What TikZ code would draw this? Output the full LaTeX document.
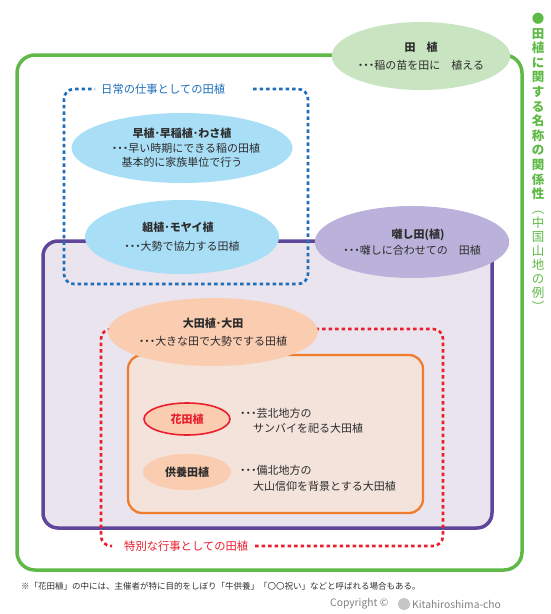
\documentclass[tikz,border=0pt]{standalone}
\usepackage{fontspec}
\setmainfont{Noto Sans CJK JP}
\usepackage{tikz}
\usetikzlibrary{shapes.geometric, positioning}
\definecolor{ugreen}{RGB}{95,185,70}
\definecolor{upurple}{RGB}{95,70,155}
\definecolor{purplebg}{RGB}{234,228,238}
\definecolor{ublue}{RGB}{30,110,185}
\definecolor{ured}{RGB}{235,30,45}
\definecolor{uorange}{RGB}{240,125,45}
\definecolor{orangebg}{RGB}{243,227,219}
\definecolor{skyfill}{RGB}{168,222,246}
\definecolor{lilacfill}{RGB}{186,178,218}
\definecolor{leaffill}{RGB}{200,228,192}
\definecolor{peachfill}{RGB}{250,204,176}
\definecolor{txt}{RGB}{45,45,45}
\newcommand\bodyfont{\fontsize{11}{14.5}\selectfont}
\newcommand\lead{\textbf{･･･}}
\tikzset{
  outerbox/.style  = {draw=ugreen, line width=3.5pt, rounded corners=18pt},
  middlebox/.style = {draw=upurple, fill=purplebg, line width=3.5pt, rounded corners=15pt},
  innerbox/.style  = {draw=uorange, fill=orangebg, line width=2.3pt, rounded corners=14pt},
  dotline/.style   = {line width=2.6pt, dash pattern=on 3.5pt off 3pt, rounded corners=10pt},
  oval/.style      = {ellipse, inner sep=0pt, align=center, text=txt, font=\bodyfont},
  side/.style      = {anchor=west, align=left, inner sep=0pt, text=txt, font=\bodyfont},
  grouplabel/.style= {anchor=west, inner sep=0pt, font=\fontsize{11.3}{13}\selectfont},
  vtitle/.style    = {anchor=north, align=center, inner sep=0pt, text=ugreen},
  credit/.style    = {anchor=west, inner sep=0pt, text=gray, font=\fontsize{10.3}{12}\selectfont},
}

\begin{document}
\begin{tikzpicture}[x=1pt, y=-1pt]
  \useasboundingbox (0,0) rectangle (550,614);

  % frames, outside in
  \draw[outerbox]  (17,55)   rectangle (522,570);
  \draw[middlebox] (43,241)  rectangle (492,528);
  \draw[dotline, ublue] (253,89) -| (308,284) -| (64,89) -- (95,89);
  \draw[dotline, ured]  (255,546) -| (443,329) -| (101,546) -- (112,546);
  \draw[innerbox]  (128,355) rectangle (423,513);

  \node[grouplabel, text=ublue] (daily)   at (101,89)  {日常の仕事としての田植};
  \node[grouplabel, text=ured]  (special) at (124,546) {特別な行事としての田植};

  % ovals
  \node[oval, fill=leaffill, minimum width=178pt, minimum height=68pt] (taue) at (421,56)
    {\textbf{田　植}\\[3pt]\lead 稲の苗を田に　植える};
  \node[oval, fill=skyfill, minimum width=192pt, minimum height=70pt] (early) at (182,148)
    {\textbf{早植･早稲植･わさ植}\\\hspace*{8pt}\lead 早い時期にできる稲の田植\\基本的に家族単位で行う};
  \node[oval, fill=skyfill, minimum width=194pt, minimum height=74pt] (kumi) at (182,237)
    {\textbf{組植･モヤイ植}\hspace*{8pt}\\[5pt]\lead 大勢で協力する田植};
  \node[oval, fill=lilacfill, minimum width=170pt, minimum height=72pt] (hayashi) at (412,242)
    {\hspace*{12pt}\textbf{囃し田(植)}\\[2pt]\lead 囃しに合わせての　田植};
  \node[oval, fill=peachfill, minimum width=180pt, minimum height=68pt] (ota) at (213,332)
    {\textbf{大田植･大田}\\[3pt]\lead 大きな田で大勢でする田植};
  \node[oval, fill=peachfill, draw=ured, line width=1.6pt, text=ured,
        minimum width=86pt, minimum height=32pt] (hana) at (187,419) {\textbf{花田植}};
  \node[oval, fill=peachfill, minimum width=88pt, minimum height=36pt] (kuyo) at (187,472)
    {\textbf{供養田植}};

  \node[side] (hanatext) at (240,421) {\lead 芸北地方の\\\hspace*{13pt}サンバイを祀る大田植};
  \node[side] (kuyotext) at (240,478) {\lead 備北地方の\\[1.5pt]\hspace*{13pt}大山信仰を背景とする大田植};

  % vertical title
  \node[vtitle, font=\fontsize{12.5}{14.6}\selectfont\bfseries] (title) at (538,13)
    {●\\田\\植\\に\\関\\す\\る\\名\\称\\の\\関\\係\\性};
  \node[vtitle, font=\fontsize{12.5}{14}\selectfont, below=11pt of title.south] (region)
    {︵\\中\\国\\山\\地\\の\\例\\︶};

  % footnote and credit
  \node[anchor=west, inner sep=0pt, text=txt, font=\fontsize{8.5}{10}\selectfont] (note) at (21,586)
    {※「花田植」の中には、主催者が特に目的をしぼり「牛供養」「〇〇祝い」などと呼ばれる場合もある。};
  \node[credit] (copy) at (330,604) {Copyright ©};
  \fill[gray!45] (404,604) circle (6pt);
  \node[credit] (town) at (412,604) {Kitahiroshima-cho};
\end{tikzpicture}
\end{document}
